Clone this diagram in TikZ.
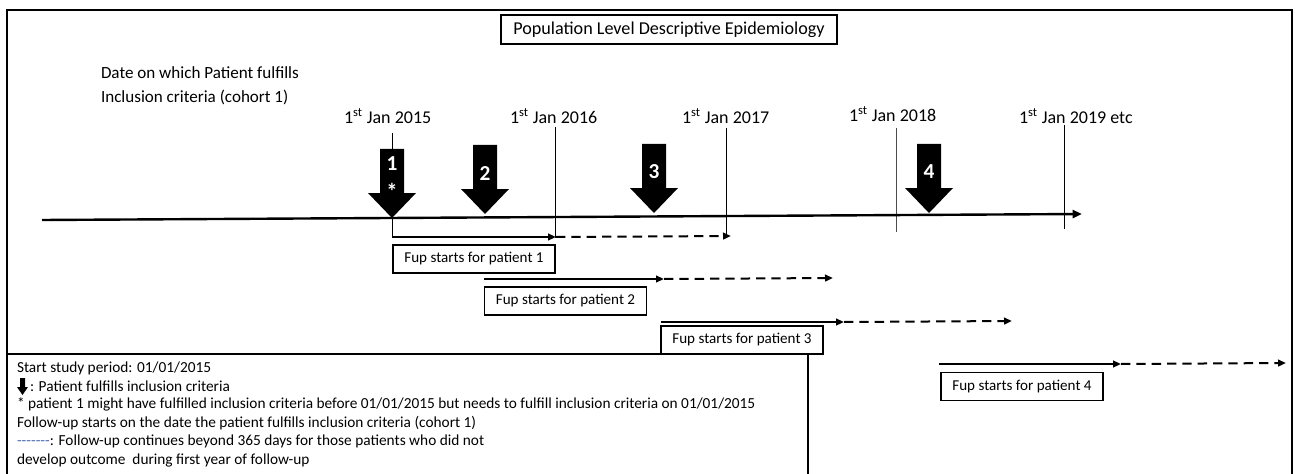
\documentclass[tikz,border=0pt]{standalone}
\usepackage{fontspec}
\setmainfont{Carlito}
\usetikzlibrary{arrows.meta}
\definecolor{dashblue}{RGB}{80,110,180}
\begin{document}
\begin{tikzpicture}[x=0.75pt,y=-0.75pt,
  every node/.style={inner sep=0pt, outer sep=0pt},
  fupbox/.style={draw, line width=0.8pt, minimum width=121.5pt, minimum height=21pt, font=\fontsize{11.3}{13}\selectfont},
  titlebox/.style={draw, line width=1.4pt, minimum width=252pt, minimum height=22pt, font=\fontsize{13.6}{16}\selectfont},
  tickline/.style={line width=0.75pt},
  fup/.style={line width=1.5pt, -{Triangle[length=6pt,width=5pt]}},
  fupdash/.style={fup, dash pattern=on 7pt off 4.5pt},
  yr/.style={anchor=west, font=\fontsize{13.5}{16}\selectfont},
  hd/.style={anchor=west, font=\fontsize{12.8}{15}\selectfont},
  num/.style={text=white, font=\bfseries\fontsize{16}{18}\selectfont},
  leg/.style={anchor=west, font=\fontsize{11.5}{13}\selectfont},
  blockarrow/.pic={\fill (-12,-69) -- (12,-69) -- (12,-25) -- (24,-25) -- (0,0) -- (-24,-25) -- (-12,-25) -- cycle;}]

\useasboundingbox (0,0) rectangle (1295,474);
\fill[white] (0,0) rectangle (1295,474);

% outer frame
\draw[line width=1.2pt] (7,474) -- (7,10) -- (1292,10) -- (1292,474);

% title
\node[titlebox] (title) at (669,29.5) {Population Level Descriptive Epidemiology};
\node[hd] (hd1) at (101,73) {Date on which Patient fulfills};
\node[hd] (hd2) at (101,97) {Inclusion criteria (cohort 1)};

% year labels
\node[yr] (y15) at (344,116) {1\textsuperscript{st} Jan 2015};
\node[yr] (y16) at (510,116) {1\textsuperscript{st} Jan 2016};
\node[yr] (y17) at (682,116) {1\textsuperscript{st} Jan 2017};
\node[yr] (y18) at (849,114) {1\textsuperscript{st} Jan 2018};
\node[yr] (y19) at (1019,116) {1\textsuperscript{st} Jan 2019 etc};

% ticks
\coordinate (t15a) at (392,133); \coordinate (t15b) at (392,237);
\coordinate (t16a) at (555,127); \coordinate (t16b) at (555,238);
\coordinate (t17a) at (726,128); \coordinate (t17b) at (726,237);
\coordinate (t18a) at (896,128); \coordinate (t18b) at (896,232);
\coordinate (t19a) at (1064,125); \coordinate (t19b) at (1064,229);
\draw[tickline] (t15a) -- (t15b);
\draw[tickline] (t16a) -- (t16b);
\draw[tickline] (t17a) -- (t17b);
\draw[tickline,black!70] (t18a) -- (t18b);
\draw[tickline] (t19a) -- (t19b);

% timeline
\coordinate (tl0) at (42,220);
\coordinate (tl1) at (1082,214);
\draw[line width=1.8pt, -{Triangle[length=7pt,width=6pt]}] (tl0) -- (tl1);

% block arrows
\pic at (392,218) {blockarrow};
\pic at (485,214) {blockarrow};
\pic at (654,213) {blockarrow};
\pic at (929,213) {blockarrow};
\node[num] (n1) at (392,164) {1};
\node[text=white, font=\bfseries\fontsize{17}{18}\selectfont] (n1s) at (392,191) {*};
\node[num] (n2) at (485,174) {2};
\node[num] (n3) at (654,172) {3};
\node[num] (n4) at (929,172) {4};

% follow-up lines
\coordinate (p1a) at (392,237); \coordinate (p1b) at (556,237); \coordinate (p1c) at (731,236);
\coordinate (p2a) at (484,279); \coordinate (p2b) at (664,279); \coordinate (p2c) at (833,278);
\coordinate (p3a) at (661,322); \coordinate (p3b) at (844,322); \coordinate (p3c) at (1012,321);
\coordinate (p4a) at (939,364); \coordinate (p4b) at (1121,364); \coordinate (p4c) at (1286,363);
\draw[fup] (p1a) -- (p1b);
\draw[fupdash] (p1b) -- (p1c);
\draw[fup] (p2a) -- (p2b);
\draw[fupdash] (p2b) -- (p2c);
\draw[fup] (p3a) -- (p3b);
\draw[fupdash] (p3b) -- (p3c);
\draw[fup] (p4a) -- (p4b);
\draw[fupdash] (p4b) -- (p4c);

% legend frame
\draw[line width=1pt] (7,354) -- (808,354) -- (808,474);

% fup boxes
\node[fupbox, fill=white] (b1) at (474,259) {Fup starts for patient 1};
\node[fupbox, fill=white] (b2) at (565.5,301) {Fup starts for patient 2};
\node[fupbox, fill=white] (b3) at (742,340) {Fup starts for patient 3};
\node[fupbox, fill=white] (b4) at (1022,386.5) {Fup starts for patient 4};

% legend
\node[leg] (l1) at (17,368) {Start study period: 01/01/2015};
\fill (20,378) -- (25,378) -- (25,387) -- (28,387) -- (22.5,395) -- (17,387) -- (20,387) -- cycle;
\node[leg] (l2) at (30,386) {: Patient fulfills inclusion criteria};
\node[leg] (l3) at (17,404.5) {* patient 1 might have fulfilled inclusion criteria before 01/01/2015 but needs to fulfill inclusion criteria on 01/01/2015};
\node[leg] (l4) at (17,423) {Follow-up starts on the date the patient fulfills inclusion criteria (cohort 1)};
\node[leg] (l5) at (17,441.5) {{\color{dashblue}\mbox{-}\mbox{-}\mbox{-}\mbox{-}\mbox{-}\mbox{-}\mbox{-}}: Follow-up continues beyond 365 days for those patients who did not};
\node[leg] (l6) at (17,460) {develop outcome\ \ during first year of follow-up};
\end{tikzpicture}
\end{document}
